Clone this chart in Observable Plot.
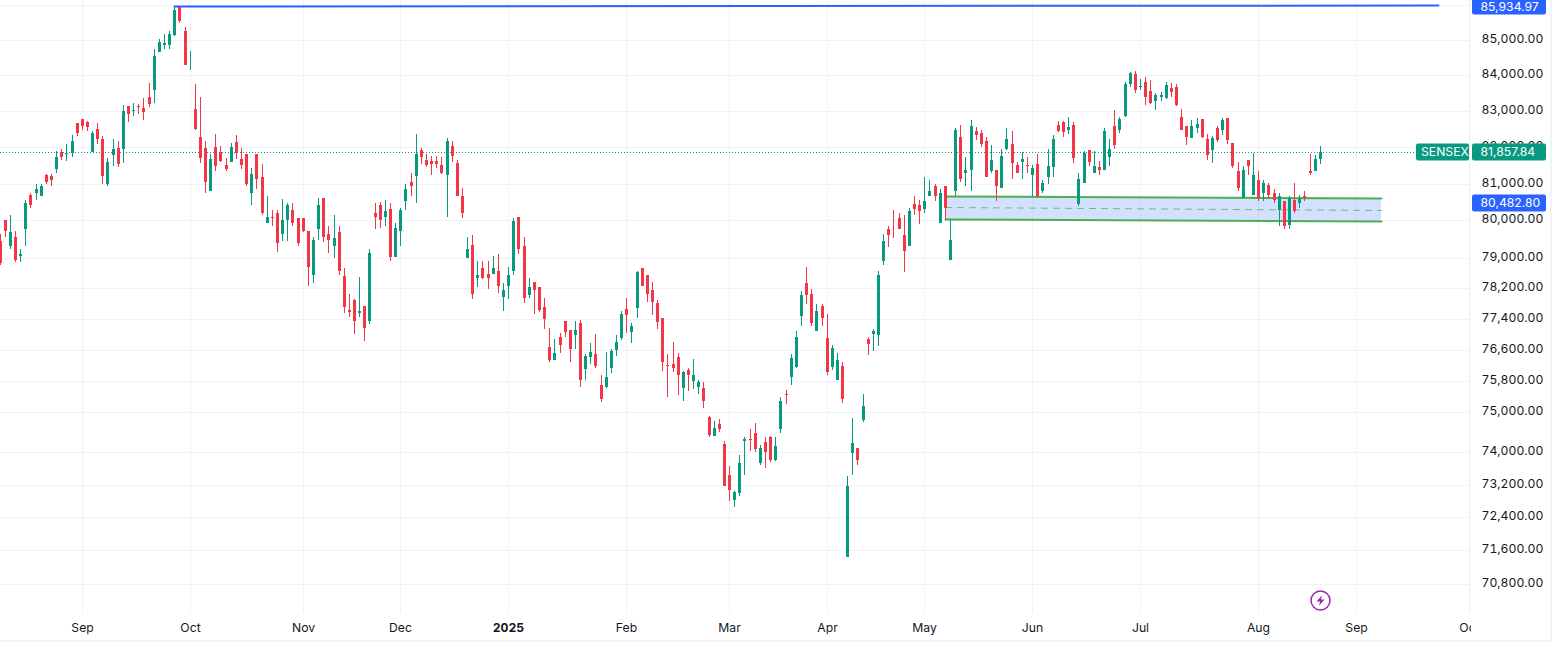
<!DOCTYPE html>
<html>
<head>
<meta charset="utf-8">
<script src="https://cdn.jsdelivr.net/npm/d3@7"></script>
<script src="https://cdn.jsdelivr.net/npm/@observablehq/plot@0.6"></script>
<style>
  html, body { margin: 0; padding: 0; background: #fff; overflow: hidden; }
  #wrap { position: relative; width: 1561px; height: 672px; }
  #wrap svg { display: block; max-width: none; }
  #frame { position: absolute; left: 0; top: 0; width: 1550px; height: 640px;
           border-right: 2px solid #f1f3f6; border-bottom: 2px solid #f1f3f6; pointer-events: none; }
</style>
</head>
<body>
<div id="wrap"><div id="frame"></div></div>
<script>
const opens = [
79440,80000,79330,79570,79060,79760,80700,80730,80675,81220,
81195,81385,81855,81800,81825,82660,82770,82685,81855,82490,
82210,80975,81770,81965,81935,83130,82990,83130,83075,83380,
83600,84650,84875,84850,85160,85980,85250,84280,83045,82270,
81965,80810,81990,81855,81495,81580,82130,81660,81800,80755,
81800,81165,79920,80105,80215,79650,80025,80270,80055,80055,
79730,78535,79760,80595,79625,79305,79680,78510,77640,77880,
77540,77720,77330,80215,80430,80105,80300,79035,79730,80515,
81055,81195,81910,81635,81605,81605,81495,81220,82020,81550,
80675,79010,79355,78480,78720,78585,78585,78665,77980,78245,
78640,80105,79305,78010,78350,78220,77695,76660,76325,76920,
77330,77100,76970,77280,76095,76400,76480,75705,75655,76120,
76585,76890,77645,77045,77670,78720,78535,78140,77800,77410,
76195,76220,76400,75630,76090,75785,75655,75630,74890,74415,
74715,74215,73430,72815,72990,74290,74340,74490,73725,74265,
74390,73820,74590,75475,75910,76145,77460,78325,78035,77075,
77720,76890,76145,75810,76170,71430,73990,74115,74815,76865,
76995,76970,78905,79760,80160,80080,79600,79330,80435,80405,
80300,80650,80920,79945,80945,78955,80810,82265,81275,81360,
82435,82380,82155,81330,81360,80890,81935,82075,81495,81580,
81495,81220,81525,80785,81190,81440,82600,82680,82460,82600,
80435,81025,81910,81300,81440,81360,81715,82570,82460,82870,
83765,84050,83680,83820,83570,83290,83400,83375,83655,83680,
82845,82570,82240,82540,82790,82210,81910,82540,82460,82815,
82100,81330,80620,81635,80700,81110,80755,80970,80730,80270,
80515,79890,80540,80485,80650,81330,81330,81660];
const highs = [
79650,80000,80135,79705,79250,80540,80755,80975,80975,81250,
81250,81880,81935,82075,82325,82660,82770,82715,82435,82660,
82295,81690,82210,82155,83155,83130,83215,83185,83350,83795,
84735,85020,85190,85275,85980,85980,85390,84680,83770,83405,
82155,81800,82350,82020,81690,82100,82325,81965,81800,81415,
81800,81525,80675,80270,80270,80570,80485,80460,80055,80055,
79730,79545,80595,80595,79840,80135,79840,78720,78060,77905,
78490,77720,79250,80480,80510,80540,80460,79945,80350,80975,
81275,82350,81965,81800,81745,81745,81715,82240,82160,81635,
80890,79545,79600,78930,78905,78905,79060,79115,78325,78770,
80055,80105,79545,78480,78350,78220,77930,77150,76865,77020,
77330,77100,77330,77355,76480,76765,76995,75940,76530,76610,
76970,77615,77930,77280,78665,78745,78560,78375,77880,77410,
76480,76790,76505,76065,76120,76350,75810,75760,74915,74790,
74840,74290,73650,73035,73945,74390,74590,74740,74190,74390,
74415,74390,75400,75580,76480,77075,78115,78770,78190,77775,
77775,77515,76710,76505,76275,73405,74865,74115,75475,76920,
77125,78640,79650,79840,80270,80190,80160,80350,80675,80540,
81190,81085,81000,80865,80945,80025,82515,82600,81715,82740,
82545,82460,82265,82045,81360,81935,82515,82435,81580,81855,
81715,81495,81800,81110,81935,82325,82710,82710,82820,82680,
81275,81880,81910,81880,81605,82515,82210,83035,82845,83820,
84105,84135,83905,83960,83880,83515,83540,83820,83795,83765,
83065,82570,82760,82815,82790,82350,82295,82570,82815,82815,
82100,81580,81470,81635,81825,81330,81110,81025,80865,80755,
80515,80650,81025,80700,80785,81800,81770,82020];
const lows = [
78820,79570,79250,78900,78900,79330,80350,80540,80650,80975,
80920,81300,81635,81605,81715,82295,82465,82435,81855,82075,
81000,80920,81470,81440,81550,82685,82850,82905,82740,83100,
83215,84650,84735,84760,85130,85500,84280,84140,82465,81550,
80755,80810,81350,81580,81330,81580,81660,81385,80920,80430,
80840,80160,79920,79840,79170,79440,79440,79840,79305,79680,
78245,78325,79490,79435,79140,79010,78560,77540,77435,76995,
77435,76815,77255,79785,79810,79865,78930,79035,79330,80270,
80650,80485,81525,81440,81220,81415,81250,80105,81580,80650,
80080,79010,77905,78220,78430,78190,78585,78085,77590,77905,
78560,79115,77800,77930,77515,77565,77125,76275,76325,76505,
76920,76275,76610,75655,75835,76220,76120,75270,75630,75990,
76430,76840,77020,76765,77410,78245,77850,77485,77125,76040,
75400,76015,75450,75300,75555,75605,75475,75120,74390,74415,
74515,73160,72790,72645,72915,73430,74040,74015,73675,73600,
73770,73795,74490,75220,75705,76120,77200,77775,77200,77075,
77200,75940,76090,75810,75245,71430,73430,73675,74765,76455,
76555,76685,78800,79280,79520,79760,78615,79330,80135,79895,
80190,80650,80515,79945,80000,78955,80675,81055,80920,80785,
82185,81990,81165,81275,80515,80890,81910,81135,81275,81135,
81300,80650,80595,80730,81000,81165,82405,82265,82350,81550,
80380,81025,81470,81275,81220,81360,81470,81935,82375,82845,
83680,83515,83600,83175,83205,83035,83290,83345,83400,83150,
82460,82045,82240,82375,82240,81635,81550,82130,82320,82075,
81415,80810,80595,81220,80700,80515,80515,80570,80460,79840,
79785,79785,80190,80350,80515,81220,81330,81525];
const closes = [
78870,79710,79680,78955,79115,80460,80430,80840,80920,81055,
81085,81715,81715,81825,82155,82380,82575,82545,82380,82210,
81195,81580,81935,81525,82990,82905,83020,83100,82965,83185,
84560,84960,84930,85190,85870,85560,84305,84305,82490,81690,
81055,81660,81470,81605,81385,81990,81825,81495,81000,81250,
81135,80215,80105,80055,79385,80025,80405,79945,79385,79705,
78770,79490,80405,79545,79490,79520,78665,77695,77565,77330,
77590,77150,79140,80105,80000,80245,79035,79810,80270,80865,
80945,81800,81715,81495,81525,81525,81275,82160,81745,80675,
80190,79250,78035,78560,78455,78455,78720,78245,78165,78535,
79975,79225,77955,78220,78140,77620,77385,76325,76505,76710,
77050,76610,77100,75835,76430,76530,76170,75350,75910,76555,
76790,77515,77485,77200,78615,78270,78060,77850,77305,76275,
76170,76120,75940,76015,75960,75960,75760,75300,74440,74615,
74590,73175,73060,73010,73745,74340,74315,74090,74115,74015,
73820,74165,75300,75450,76375,76920,78010,78010,77280,77615,
77410,76015,76635,76325,75350,73160,74240,73820,75170,76735,
77075,78560,79440,79600,80135,79785,79195,80245,80300,80245,
80515,80810,80650,80755,80325,79465,82460,81135,81360,82570,
82325,82075,81190,81635,80945,81745,82210,81550,81300,81660,
81470,81415,80650,81025,81470,82210,82435,82405,82545,81690,
81135,81825,81580,81470,81360,82435,81935,82045,82790,83765,
84075,83600,83710,83400,83235,83460,83460,83740,83540,83175,
82485,82265,82595,82650,82265,81770,82240,82185,82760,82185,
81470,80890,81360,81470,81220,80595,81025,80700,80540,80650,
79840,80620,80245,80570,80595,81275,81660,81858];

const gridPrices = [86000,85000,84000,83000,82000,81000,80000,79000,78200,77400,76600,75800,75000,74000,73200,72400,71600,70800];
const labelPrices = gridPrices.slice(1);
const monthBars = [16,37,59,78,99,122,142,161,180,201,222,245,264,286];
const monthNames = ["Sep","Oct","Nov","Dec","2025","Feb","Mar","Apr","May","Jun","Jul","Aug","Sep","Oct"];

const lastPrice = 81857.84, lastTag = "81,857.84", symbolName = "SENSEX";
const highLabel = "85,934.97", highLabelPrice = 85990;
const midLabel = "80,482.80", midPrice = 80482.80;
const highLineBars = [34, 280], highLinePrices = [85978, 86000];
const bandBars = [184, 269], bandTop = [80675, 80600], bandBottom = [80035, 79980], bandMid = [80370, 80290];
const eventBar = 257, eventPrice = 70420;

const yMin = 70121, yMax = 86171, xEnd = 286;
const green = "#089981", red = "#f23645", blue = "#2962ff", grid = "#f0f2f6", ink = "#131722", purple = "#9c27b0", bandGreen = "#4caf50";
const fs = 12.2;

const bars = opens.map((o, i) => ({i, o, h: highs[i], l: lows[i], c: closes[i], col: closes[i] >= o ? green : red}));
const band = bandBars.map((x, k) => ({x, top: bandTop[k], bottom: bandBottom[k], mid: bandMid[k]}));
const highLine = highLineBars.map((x, k) => ({x, y: highLinePrices[k]}));

const bolt = {draw(c, size) {
  const s = Math.sqrt(size / Math.PI) / 5;
  c.moveTo(1.2*s,-5*s); c.lineTo(-4*s,0.9*s); c.lineTo(-0.6*s,0.9*s); c.lineTo(-1.2*s,5*s);
  c.lineTo(4*s,-0.9*s); c.lineTo(0.6*s,-0.9*s); c.closePath();
}};

const tag = (price, fill, insetLeft, insetRight) =>
  Plot.rect([price], {x1: xEnd, x2: xEnd, y1: d => d, y2: d => d, fill, rx: 2,
    insetLeft, insetRight, insetTop: -8.5, insetBottom: -8.5});
const tagText = (price, label, dx, dy = 0) =>
  Plot.text([price], {x: xEnd, y: d => d, text: () => label, fill: "#fff", dx, dy, textAnchor: "start", fontSize: fs});

const chart = Plot.plot({
  width: 1561, height: 672,
  marginLeft: 0, marginRight: 91, marginTop: 0, marginBottom: 59,
  style: {fontFamily: "Inter, 'Noto Sans', sans-serif", fontSize: "12.2px", color: ink, background: "transparent", overflow: "visible"},
  x: {domain: [0, xEnd], range: [-0.4, 1468.8], round: true},
  y: {type: "log", domain: [yMin, yMax], range: [612.5, -0.5], round: true},
  marks: [
    Plot.ruleY(gridPrices, {stroke: grid, strokeWidth: 1}),
    Plot.ruleX(monthBars, {stroke: grid, strokeWidth: 1}),
    Plot.ruleX([xEnd], {stroke: "#eceef2", strokeWidth: 1}),
    Plot.axisY(labelPrices, {anchor: "right", tickSize: 0, tickPadding: 11, dy: -1, tickFormat: d3.format(",.2f"), fontSize: fs}),
    Plot.axisX(monthBars.filter((d, k) => monthNames[k] !== "2025"), {anchor: "bottom", tickSize: 0, tickPadding: 10, label: null, fontSize: fs,
      tickFormat: d => monthNames[monthBars.lastIndexOf(d)]}),
    Plot.axisX(monthBars.filter((d, k) => monthNames[k] === "2025"), {anchor: "bottom", tickSize: 0, tickPadding: 10, label: null, fontSize: fs, fontWeight: "bold",
      tickFormat: d => monthNames[monthBars.indexOf(d)]}),
    Plot.rect([yMin], {x1: xEnd, x2: xEnd, y1: d => d, y2: d => d, fill: "#fff", insetLeft: 2, insetRight: -88, insetTop: 1, insetBottom: -41}),

    Plot.areaY(band, {x: "x", y1: "bottom", y2: "top", fill: blue, fillOpacity: 0.2}),
    Plot.line(band, {x: "x", y: "mid", stroke: bandGreen, strokeWidth: 1, strokeOpacity: 0.75, strokeDasharray: "6,6"}),
    Plot.line(band, {x: "x", y: "top", stroke: bandGreen, strokeWidth: 2}),
    Plot.line(band, {x: "x", y: "bottom", stroke: bandGreen, strokeWidth: 2}),

    Plot.ruleY([lastPrice], {x1: 0, x2: 275.6, stroke: green, strokeWidth: 1, strokeDasharray: "1,2"}),

    Plot.ruleX(bars, {x: "i", y1: "l", y2: "h", stroke: "col", strokeWidth: 1}),
    Plot.ruleX(bars, {x: "i", y1: "o", y2: "c", stroke: "col", strokeWidth: 3}),

    Plot.line(highLine, {x: "x", y: "y", stroke: blue, strokeWidth: 2}),

    Plot.dot([eventBar], {x: d => d, y: () => eventPrice, r: 9.5, stroke: purple, strokeWidth: 1.5, fill: "none"}),
    Plot.dot([eventBar], {x: d => d, y: () => eventPrice, r: 5, symbol: bolt, fill: purple, stroke: "none"}),

    tag(highLabelPrice, blue, 3, -77),
    tagText(highLabelPrice, highLabel, 11, 1),
    tag(midPrice, blue, 3, -77),
    tagText(midPrice, midLabel, 11),
    tag(lastPrice, green, -53, 0),
    tagText(lastPrice, symbolName, -48.5),
    tag(lastPrice, green, 3, -77),
    tagText(lastPrice, lastTag, 11)
  ]
});
document.getElementById("wrap").prepend(chart);
</script>
</body>
</html>
